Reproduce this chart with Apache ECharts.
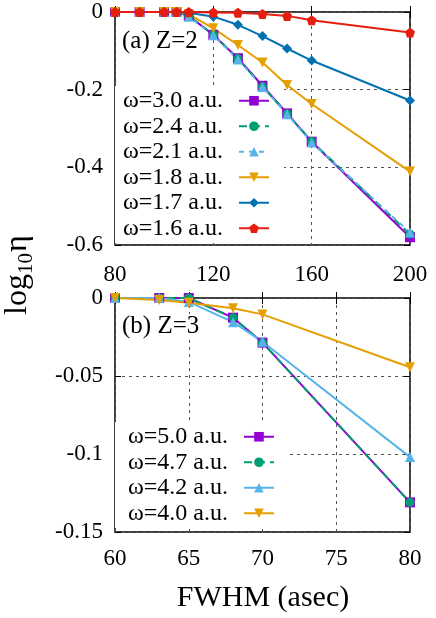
<!DOCTYPE html>
<html>
<head>
<meta charset="utf-8">
<script src="https://cdn.jsdelivr.net/npm/echarts@6/dist/echarts.min.js"></script>
<style>
  html, body { margin: 0; padding: 0; background: #fff; }
  #chart { width: 436px; height: 618px; }
</style>
</head>
<body>
<div id="chart"></div>
<script>
// panel (a) Z=2
const fwhmA = [80, 90, 100, 105, 110, 120, 130, 140, 150, 160, 200];
const w30 = [0, 0, 0, 0, -0.01, -0.059, -0.119, -0.19, -0.261, -0.334, -0.58];
const w24 = [0, 0, 0, 0, -0.01, -0.058, -0.12, -0.192, -0.262, -0.333, -0.572];
const w21 = [0, 0, 0, 0, -0.012, -0.06, -0.122, -0.193, -0.263, -0.336, -0.568];
const w18 = [0, 0, 0, 0, -0.006, -0.042, -0.085, -0.13, -0.188, -0.237, -0.411];
const w17 = [0, 0, 0, 0, -0.002, -0.012, -0.033, -0.062, -0.094, -0.125, -0.228];
const w16 = [0, 0, 0, 0, 0, -0.001, -0.002, -0.005, -0.01, -0.021, -0.053];
const namesA = ["ω=3.0 a.u.", "ω=2.4 a.u.", "ω=2.1 a.u.", "ω=1.8 a.u.", "ω=1.7 a.u.", "ω=1.6 a.u."];

// panel (b) Z=3
const fwhmB = [60, 63, 65, 68, 70, 80];
const w50 = [0, 0, 0, -0.0126, -0.0286, -0.131];
const w47 = [0, 0, 0, -0.0126, -0.0286, -0.131];
const w42 = [0, 0, -0.0025, -0.0155, -0.028, -0.102];
const w40 = [0, -0.0013, -0.003, -0.0066, -0.0105, -0.0444];
const namesB = ["ω=5.0 a.u.", "ω=4.7 a.u.", "ω=4.2 a.u.", "ω=4.0 a.u."];

const font = "'Liberation Serif', 'DejaVu Serif', serif";
const colors = {
  purple: "#9400D3",
  green: "#009E73",
  sky: "#56B4E9",
  orange: "#E69F00",
  blue: "#0072B2",
  red: "#E51E10",
};
const diamond = "path://M0,-1L1,0L0,1L-1,0Z";
const pentagon = "path://M0,-1L0.951,-0.309L0.588,0.809L-0.588,0.809L-0.951,-0.309Z";

function zip(xs, ys) {
  return xs.map((x, i) => [x, ys[i]]);
}

function fmt(v) {
  if (Math.abs(v) < 1e-9) return "0";
  return String(+v.toFixed(3));
}

function mkSeries(name, xs, ys, grid, color, symbol, opts) {
  opts = opts || {};
  return {
    name: name,
    type: "line",
    xAxisIndex: grid * 2,
    yAxisIndex: grid * 2,
    data: zip(xs, ys),
    symbol: symbol,
    symbolSize: opts.size || 10,
    symbolRotate: opts.rotate || 0,
    color: color,
    lineStyle: { color: color, width: 2, type: opts.dash || "solid" },
    itemStyle: { color: color },
    z: 3,
  };
}

const tick = { show: true, inside: true, length: 6, lineStyle: { color: "#000" } };
const gridLine = { show: true, lineStyle: { color: "#555", width: 1, type: [3, 4] } };

function mainX(grid, min, max, interval, margin) {
  return {
    type: "value",
    gridIndex: grid,
    min: min,
    max: max,
    interval: interval,
    axisLine: { show: false },
    axisTick: tick,
    axisLabel: { fontFamily: font, fontSize: 23, color: "#000", margin: margin },
    splitLine: gridLine,
  };
}
function mirrorX(grid, min, max, interval) {
  return {
    type: "value",
    gridIndex: grid,
    position: "top",
    min: min,
    max: max,
    interval: interval,
    axisLine: { show: false },
    axisTick: tick,
    axisLabel: { show: false },
    splitLine: { show: false },
  };
}
function mainY(grid, min, max, interval) {
  return {
    type: "value",
    gridIndex: grid,
    min: min,
    max: max,
    interval: interval,
    axisLine: { show: false },
    axisTick: tick,
    axisLabel: { fontFamily: font, fontSize: 23, color: "#000", margin: 12, formatter: fmt },
    splitLine: gridLine,
  };
}
function mirrorY(grid, min, max, interval) {
  return {
    type: "value",
    gridIndex: grid,
    position: "right",
    min: min,
    max: max,
    interval: interval,
    axisLine: { show: false },
    axisTick: tick,
    axisLabel: { show: false },
    splitLine: { show: false },
  };
}

function legendBox(names, top, padLeft) {
  return {
    orient: "vertical",
    left: 115,
    top: top,
    z: 1,
    data: names,
    align: "right",
    itemWidth: 30,
    itemHeight: 12,
    itemGap: 0,
    padding: [2, 14, 2, padLeft],
    backgroundColor: "#fff",
    selectedMode: false,
    textStyle: {
      fontFamily: font,
      fontSize: 24,
      color: "#000",
      lineHeight: 25.5,
      padding: [0, 11, 0, 0],
    },
  };
}

const chart = echarts.init(document.getElementById("chart"), null, { renderer: "canvas" });

const option = {
  animation: false,
  backgroundColor: "#fff",
  grid: [
    { left: 115, right: 26, top: 12, height: 233, show: true, borderColor: "#000", borderWidth: 1.5, backgroundColor: "transparent" },
    { left: 115, right: 26, top: 298, height: 234, show: true, borderColor: "#000", borderWidth: 1.5, backgroundColor: "transparent" },
  ],
  xAxis: [
    mainX(0, 80, 200, 40, 18),
    mirrorX(0, 80, 200, 40),
    mainX(1, 60, 80, 5, 15),
    mirrorX(1, 60, 80, 5),
  ],
  yAxis: [
    mainY(0, -0.6, 0, 0.2),
    mirrorY(0, -0.6, 0, 0.2),
    mainY(1, -0.15, 0, 0.05),
    mirrorY(1, -0.15, 0, 0.05),
  ],
  legend: [legendBox(namesA, 86, 8), legendBox(namesB, 422, 13)],
  series: [
    mkSeries(namesA[0], fwhmA, w30, 0, colors.purple, "rect"),
    mkSeries(namesA[1], fwhmA, w24, 0, colors.green, "circle", { size: 9, dash: [8, 5] }),
    mkSeries(namesA[2], fwhmA, w21, 0, colors.sky, "triangle", { dash: [5, 5] }),
    mkSeries(namesA[3], fwhmA, w18, 0, colors.orange, "triangle", { rotate: 180 }),
    mkSeries(namesA[4], fwhmA, w17, 0, colors.blue, diamond),
    mkSeries(namesA[5], fwhmA, w16, 0, colors.red, pentagon),
    mkSeries(namesB[0], fwhmB, w50, 1, colors.purple, "rect"),
    mkSeries(namesB[1], fwhmB, w47, 1, colors.green, "circle", { size: 9, dash: [8, 5] }),
    mkSeries(namesB[2], fwhmB, w42, 1, colors.sky, "triangle"),
    mkSeries(namesB[3], fwhmB, w40, 1, colors.orange, "triangle", { rotate: 180 }),
  ],
  graphic: [
    {
      type: "text",
      left: 122,
      top: 29,
      z: 5,
      style: { text: "(a) Z=2", fontFamily: font, fontSize: 25, fill: "#000", backgroundColor: "#fff" },
    },
    {
      type: "text",
      left: 122,
      top: 314,
      z: 5,
      style: { text: "(b) Z=3", fontFamily: font, fontSize: 25, fill: "#000", backgroundColor: "#fff" },
    },
    {
      type: "text",
      x: 263,
      y: 598,
      style: { text: "FWHM (asec)", fontFamily: font, fontSize: 30, fill: "#000", align: "center", verticalAlign: "middle" },
    },
    {
      type: "group",
      x: 18,
      y: 315,
      rotation: Math.PI / 2,
      children: [
        { type: "text", x: 0, y: 0, style: { text: "log", fontFamily: font, fontSize: 32, fill: "#000", verticalAlign: "middle" } },
        { type: "text", x: 41, y: 8, style: { text: "10", fontFamily: font, fontSize: 21, fill: "#000", verticalAlign: "middle" } },
        { type: "text", x: 63, y: 0, style: { text: "η", fontFamily: font, fontSize: 32, fill: "#000", verticalAlign: "middle" } },
      ],
    },
  ],
};

chart.setOption(option);
</script>
</body>
</html>
